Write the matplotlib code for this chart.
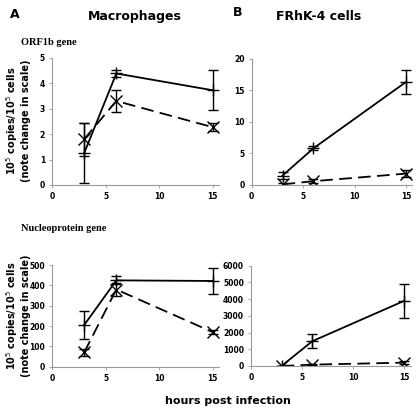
import matplotlib
matplotlib.use("Agg")
import matplotlib.pyplot as plt

hours = [3, 6, 15]

# ORF1b gene
mac_orf_solid = [1.25, 4.38, 3.72]
mac_orf_solid_err = [1.17, 0.12, 0.78]
mac_orf_dash = [1.8, 3.3, 2.27]
mac_orf_dash_err = [0.65, 0.43, 0.15]

frhk_orf_solid = [1.5, 5.8, 16.3]
frhk_orf_solid_err = [0.5, 0.3, 1.9]
frhk_orf_dash = [0.1, 0.6, 1.8]
frhk_orf_dash_err = [0.2, 0.3, 0.5]

# Nucleoprotein gene
mac_np_solid = [205, 425, 422]
mac_np_solid_err = [70, 20, 62]
mac_np_dash = [70, 380, 170]
mac_np_dash_err = [15, 30, 10]

frhk_np_solid = [0, 1480, 3900]
frhk_np_solid_err = [20, 430, 1020]
frhk_np_dash = [0, 80, 200]
frhk_np_dash_err = [20, 40, 100]

ylabel = "10$^5$ copies/10$^5$ cells\n(note change in scale)"

fig = plt.figure(figsize=(4.16, 4.08), dpi=100)

panels = [
    ([0.125, 0.5466, 0.402, 0.312], (0, 5), [0, 1, 2, 3, 4, 5],
     mac_orf_solid, mac_orf_solid_err, mac_orf_dash, mac_orf_dash_err),
    ([0.605, 0.5466, 0.386, 0.310], (0, 20), [0, 5, 10, 15, 20],
     frhk_orf_solid, frhk_orf_solid_err, frhk_orf_dash, frhk_orf_dash_err),
    ([0.125, 0.1012, 0.402, 0.249], (0, 500), [0, 100, 200, 300, 400, 500],
     mac_np_solid, mac_np_solid_err, mac_np_dash, mac_np_dash_err),
    ([0.603, 0.103, 0.384, 0.246], (0, 6000), [0, 1000, 2000, 3000, 4000, 5000, 6000],
     frhk_np_solid, frhk_np_solid_err, frhk_np_dash, frhk_np_dash_err),
]

for rect, ylim, yticks, s, se, d, de in panels:
    ax = fig.add_axes(rect)
    ax.errorbar(hours, s, yerr=se, color="black", lw=1.3, marker="+", ms=8,
                mew=1.0, capsize=3.5, elinewidth=1.0, capthick=1.0)
    ax.errorbar(hours, d, yerr=de, color="black", lw=1.3, ls=(0, (7, 3.5)),
                marker="x", ms=8, mew=1.0, capsize=3.5, elinewidth=1.0, capthick=1.0)
    ax.set_xlim(0, 15.6)
    ax.set_ylim(*ylim)
    ax.set_xticks([0, 5, 10, 15])
    ax.set_yticks(yticks)
    for side in ["top", "right"]:
        ax.spines[side].set_visible(False)
    for side in ["left", "bottom"]:
        ax.spines[side].set_color("#999999")
        ax.spines[side].set_linewidth(0.8)
    ax.tick_params(length=2, width=0.6, color="#999999", labelsize=5.5, pad=3)
    for lab in ax.get_xticklabels() + ax.get_yticklabels():
        lab.set_fontweight("bold")
    ax.patch.set_alpha(0)

fig.text(0.024, 0.98, "A", fontsize=9, fontweight="bold", va="top")
fig.text(0.56, 0.985, "B", fontsize=9, fontweight="bold", va="top")
fig.text(0.325, 0.959, "Macrophages", fontsize=9, fontweight="bold", ha="center", va="center")
fig.text(0.765, 0.959, "FRhK-4 cells", fontsize=9, fontweight="bold", ha="center", va="center")
fig.text(0.05, 0.895, "ORF1b gene", fontsize=7.5, fontweight="bold",
         family="Liberation Serif", va="center")
fig.text(0.05, 0.441, "Nucleoprotein gene", fontsize=7.5, fontweight="bold",
         family="Liberation Serif", va="center")
fig.text(0.042, 0.703, ylabel, fontsize=7, fontweight="bold", rotation=90,
         ha="center", va="center", linespacing=1.1)
fig.text(0.042, 0.226, ylabel, fontsize=7, fontweight="bold", rotation=90,
         ha="center", va="center", linespacing=1.1)
fig.text(0.548, 0.017, "hours post infection", fontsize=8, fontweight="bold",
         ha="center", va="center")

fig.savefig("out.png", dpi=100)
